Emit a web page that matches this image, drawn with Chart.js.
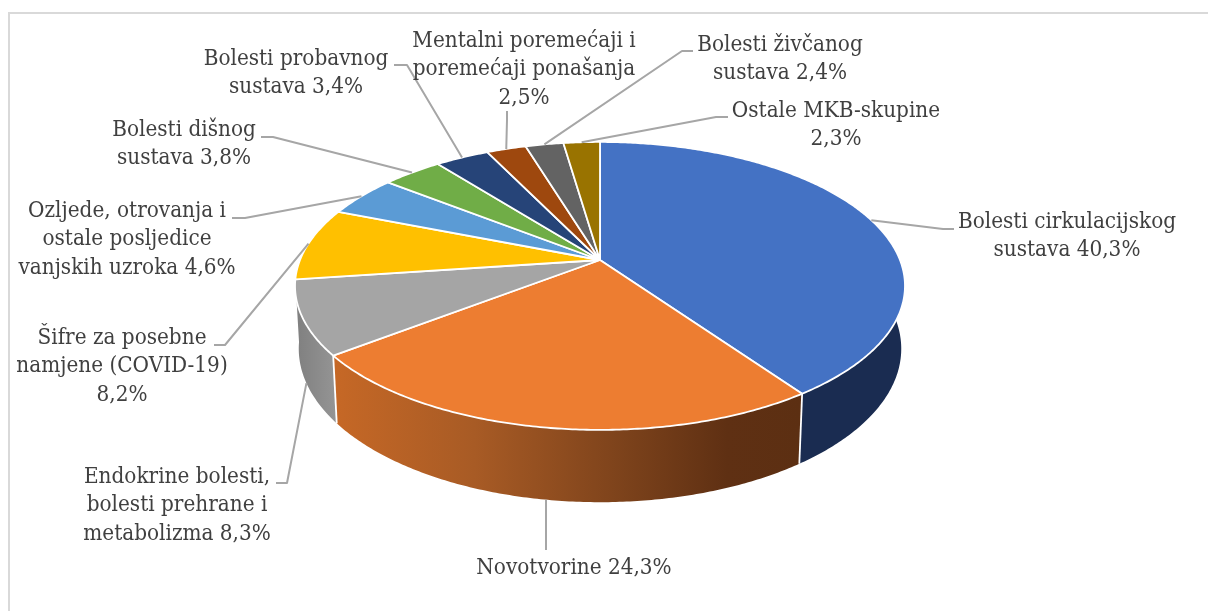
<!DOCTYPE html>
<html><head><meta charset="utf-8">
<style>html,body{margin:0;padding:0;background:#fff}canvas{display:block}</style>
<script src="https://cdn.jsdelivr.net/npm/chart.js@4"></script>
</head><body>
<canvas id="c" width="1208" height="611"></canvas>
<script>
const categories = ["Bolesti cirkulacijskog sustava","Novotvorine","Endokrine bolesti, bolesti prehrane i metabolizma","Šifre za posebne namjene (COVID-19)","Ozljede, otrovanja i ostale posljedice vanjskih uzroka","Bolesti dišnog sustava","Bolesti probavnog sustava","Mentalni poremećaji i poremećaji ponašanja","Bolesti živčanog sustava","Ostale MKB-skupine"];
const values = [40.3,24.3,8.3,8.2,4.6,3.8,3.4,2.5,2.4,2.3];
const colors = ["#4472C4","#ED7D31","#A5A5A5","#FFC000","#5B9BD5","#70AD47","#264478","#9E480E","#636363","#997300"];
const labelLines = [
 ["Bolesti cirkulacijskog","sustava {v}"],["Novotvorine {v}"],["Endokrine bolesti,","bolesti prehrane i","metabolizma {v}"],
 ["Šifre za posebne","namjene (COVID-19)","{v}"],["Ozljede, otrovanja i","ostale posljedice","vanjskih uzroka {v}"],
 ["Bolesti dišnog","sustava {v}"],["Bolesti probavnog","sustava {v}"],["Mentalni poremećaji i","poremećaji ponašanja","{v}"],
 ["Bolesti živčanog","sustava {v}"],["Ostale MKB-skupine","{v}"]];
const labelCentres = [[1067,222],[574,568],[177,477],[122,338],[127,211],[184,130],[296,59],[524,41],[780,45],[836,111]];
const leaderStarts = [[[954,229],[943,229]],[[546,550],[546,540]],[[276,483],[287,483]],[[214,345],[225,345]],[[232,218],[245,218]],[[261,137],[273,137]],[[394,65],[407,65]],[[507,111],[507,120]],[[693,51],[682,51]],[[728,117],[716,117]]];
const leaderOnWallBase = [false,true,true,false,false,false,false,false,false,false];

const P = {cx:600, cy:260, R:300, a:139.3, k:0.18, m:0.012, b:62.2};
function project(theta, h){
  const u=Math.sin(theta), v=-Math.cos(theta), w=1-P.k*v+P.m*h;
  return [P.cx+P.R*u/w, P.cy+(P.a*v+P.b*h)/w];
}
function arcPts(t0,t1,h){
  const n=Math.max(2,Math.ceil((t1-t0)/0.01)), out=[];
  for(let i=0;i<=n;i++) out.push(project(t0+(t1-t0)*i/n,h));
  return out;
}
const wallStops = [
 [[0,"#1a2c51"],[1,"#1a2c51"]],
 [[0,"#c66826"],[0.3,"#a85b25"],[0.62,"#7c421b"],[0.84,"#5f3013"],[1,"#5c2f12"]],
 [[0,"#7f7f7f"],[1,"#959595"]]
];
const pie3d = {
  id:'pie3d',
  beforeDatasetsDraw(chart){
    const ctx=chart.ctx, arcs=chart.getDatasetMeta(0).data;
    const ang=e=>[e.startAngle+Math.PI/2,e.endAngle+Math.PI/2];
    ctx.save();ctx.strokeStyle="#d9d9d9";ctx.lineWidth=2;ctx.beginPath();ctx.moveTo(9,611);ctx.lineTo(9,13);ctx.lineTo(1208,13);ctx.stroke();ctx.restore();
    arcs.forEach((e,i)=>{
      if(!wallStops[i]) return;
      const [t0,t1]=ang(e);
      const top=arcPts(t0,t1,0), bot=arcPts(t0,t1,1);
      const xs=top.concat(bot).map(p=>p[0]);
      const g=ctx.createLinearGradient(Math.min(...xs),0,Math.max(...xs),0);
      wallStops[i].forEach(s=>g.addColorStop(s[0],s[1]));
      ctx.beginPath();
      top.forEach((p,j)=>j?ctx.lineTo(p[0],p[1]):ctx.moveTo(p[0],p[1]));
      bot.reverse().forEach(p=>ctx.lineTo(p[0],p[1]));
      ctx.closePath();ctx.fillStyle=g;ctx.fill();
    });
    ctx.strokeStyle="#fff";ctx.lineWidth=1.8;
    arcs.forEach(e=>{
      const t=ang(e)[1];
      if(-Math.cos(t)<0.3) return;
      const a=project(t,0), b=project(t,1);
      ctx.beginPath();ctx.moveTo(a[0],a[1]);ctx.lineTo(b[0],b[1]);ctx.stroke();
    });
    arcs.forEach((e,i)=>{
      const [t0,t1]=ang(e);
      ctx.beginPath();ctx.moveTo(P.cx,P.cy);
      arcPts(t0,t1,0).forEach(p=>ctx.lineTo(p[0],p[1]));
      ctx.closePath();ctx.fillStyle=colors[i];ctx.fill();
      ctx.strokeStyle="#fff";ctx.lineWidth=1.8;ctx.lineJoin="round";ctx.stroke();
    });
    ctx.strokeStyle="#a6a6a6";ctx.lineWidth=2;
    arcs.forEach((e,i)=>{
      const [t0,t1]=ang(e), end=project((t0+t1)/2,leaderOnWallBase[i]?1:0), s=leaderStarts[i];
      ctx.beginPath();ctx.moveTo(s[0][0],s[0][1]);ctx.lineTo(s[1][0],s[1][1]);ctx.lineTo(end[0],end[1]);ctx.stroke();
    });
    ctx.fillStyle="#404040";ctx.font="22.3px 'DejaVu Serif Condensed'";ctx.textAlign="center";ctx.textBaseline="middle";
    labelLines.forEach((ls,i)=>{
      ls.forEach((l,j)=>{
        const txt=l.replace("{v}",values[i].toFixed(1).replace(".",",")+"%");
        ctx.fillText(txt,labelCentres[i][0],labelCentres[i][1]+j*28.5);
      });
    });
    return false;
  }
};
new Chart(document.getElementById('c'),{
  type:'pie',
  data:{labels:categories,datasets:[{data:values,backgroundColor:colors,borderColor:'#fff'}]},
  options:{responsive:false,animation:false,plugins:{legend:{display:false},tooltip:{enabled:false}}},
  plugins:[pie3d]
});
</script>
</body></html>
